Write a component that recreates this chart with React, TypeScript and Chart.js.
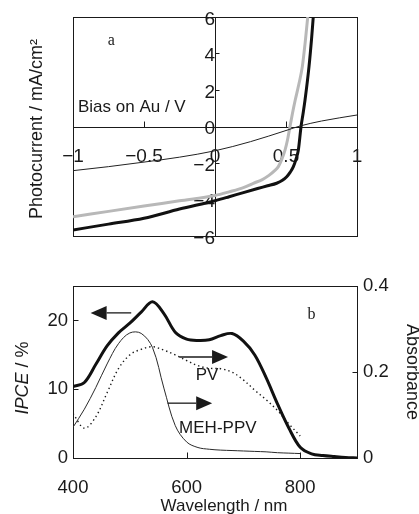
import React, { useEffect, useRef } from "react";
import { Chart, registerables } from "chart.js";

Chart.register(...registerables);

// ---------- Panel a: photocurrent vs bias ----------
const biasBlack = [-1, -0.75, -0.5, -0.25, 0, 0.1, 0.2, 0.3, 0.37, 0.434, 0.475, 0.505, 0.53, 0.552, 0.57, 0.587, 0.606, 0.62, 0.634, 0.662, 0.68, 0.692];
const currentBlack = [-5.67, -5.35, -5.03, -4.52, -4.07, -3.85, -3.62, -3.4, -3.25, -3.11, -2.95, -2.75, -2.5, -2.2, -1.8, -1.29, 0, 0.7, 1.45, 3.28, 4.8, 6.0];

const biasGray = [-1, -0.75, -0.5, -0.25, 0, 0.1, 0.2, 0.27, 0.33, 0.38, 0.42, 0.446, 0.47, 0.493, 0.51, 0.528, 0.545, 0.565, 0.59, 0.615, 0.635, 0.653];
const currentGray = [-4.94, -4.65, -4.36, -4.07, -3.78, -3.58, -3.35, -3.11, -2.92, -2.68, -2.42, -2.2, -1.8, -1.29, -0.75, 0, 0.7, 1.45, 2.3, 3.28, 4.6, 6.0];

const biasThin = [-1, -0.75, -0.5, -0.25, 0, 0.25, 0.5, 0.6, 0.75, 1];
const currentThin = [-2.42, -2.2, -1.95, -1.68, -1.33, -0.83, -0.22, 0.03, 0.3, 0.63];

const biasTickMarks = [-0.5, 0.5];
const currentTickMarks = [-4, -2, 2, 4];

// ---------- Panel b: IPCE and absorbance vs wavelength ----------
const wavelengths = [400, 420, 440, 460, 480, 500, 520, 540, 560, 580, 600, 620, 640, 660, 680, 700, 720, 740, 760, 780, 800, 820, 840, 860, 880, 900];
const ipce = [10.4, 11.0, 13.6, 16.3, 18.2, 19.6, 21.2, 22.7, 21.0, 18.3, 17.3, 17.1, 17.2, 17.8, 18.1, 17.0, 15.0, 11.7, 7.9, 4.4, 1.6, 0.65, 0.4, 0.25, 0.12, 0.05];
const absMEHPPV = [0.072, 0.114, 0.164, 0.219, 0.266, 0.291, 0.29, 0.257, 0.163, 0.076, 0.038, 0.025, 0.021, 0.019, 0.018, 0.017, 0.016, 0.015, 0.013, 0.012, 0.011, null, null, null, null, null];
const absPV = [0.104, 0.07, 0.096, 0.152, 0.208, 0.24, 0.253, 0.259, 0.251, 0.24, 0.227, 0.215, 0.209, 0.208, 0.2, 0.182, 0.158, 0.136, 0.111, 0.08, 0.052, null, null, null, null, null];

const wlTickMarks = [600, 800];
const ipceTickMarks = [10, 20];
const absTickMarks = [0.2];

const SANS = '"Liberation Sans", Arial, Helvetica, sans-serif';
const SERIF = '"Liberation Serif", "Times New Roman", serif';
const INK = "#1a1a1a";

const toPoints = (xs: number[], ys: (number | null)[]) =>
  xs.map((x, i) => ({ x, y: ys[i] })).filter((p) => p.y !== null && p.y !== undefined) as { x: number; y: number }[];

const minusFmt = (v: any) => String(v).replace("-", "\u2212");

function line(ctx: CanvasRenderingContext2D, x1: number, y1: number, x2: number, y2: number) {
  ctx.beginPath();
  ctx.moveTo(x1, y1);
  ctx.lineTo(x2, y2);
  ctx.stroke();
}

const topDeco = {
  id: "topDeco",
  beforeDatasetsDraw(chart: any) {
    const { ctx, chartArea: a, scales } = chart;
    const x = scales.x, y = scales.y;
    ctx.save();
    ctx.strokeStyle = INK;
    ctx.lineWidth = 1;
    ctx.strokeRect(Math.round(a.left) + 0.5, Math.round(a.top) + 0.5, Math.round(a.right - a.left), Math.round(a.bottom - a.top));
    const x0 = Math.round(x.getPixelForValue(0)) + 0.5;
    const y0 = Math.round(y.getPixelForValue(0)) + 0.5;
    line(ctx, a.left, y0, a.right, y0);
    line(ctx, x0, a.top, x0, a.bottom);
    biasTickMarks.forEach((v) => {
      const px = Math.round(x.getPixelForValue(v)) + 0.5;
      line(ctx, px, y0, px, y0 - 6);
    });
    currentTickMarks.forEach((v) => {
      const py = Math.round(y.getPixelForValue(v)) + 0.5;
      line(ctx, x0, py, x0 + 4, py);
    });
    ctx.restore();
  },
  afterDraw(chart: any) {
    const { ctx, scales } = chart;
    const x = scales.x, y = scales.y;
    ctx.save();
    ctx.fillStyle = INK;
    ctx.textBaseline = "middle";
    ctx.textAlign = "center";
    ctx.font = `16px ${SERIF}`;
    ctx.fillText("a", x.getPixelForValue(-0.73), y.getPixelForValue(4.68));
    ctx.textAlign = "left";
    ctx.font = `17px ${SANS}`;
    ctx.fillText("Bias on Au / V", x.getPixelForValue(-0.965), y.getPixelForValue(1.04));
    // y title
    ctx.translate(37, 129);
    ctx.rotate(-Math.PI / 2);
    ctx.textAlign = "center";
    ctx.font = `18px ${SANS}`;
    ctx.fillText("Photocurrent / mA/cm\u00B2", 0, 0);
    ctx.restore();
  },
};

function arrow(ctx: CanvasRenderingContext2D, x1: number, x2: number, y: number) {
  // from x1 to tip at x2
  const dir = Math.sign(x2 - x1);
  const head = 16;
  const half = 7;
  ctx.lineWidth = 1.3;
  line(ctx, x1, y, x2 - dir * head, y);
  ctx.beginPath();
  ctx.moveTo(x2, y);
  ctx.lineTo(x2 - dir * head, y - half);
  ctx.lineTo(x2 - dir * head, y + half);
  ctx.closePath();
  ctx.fill();
}

const bottomDeco = {
  id: "bottomDeco",
  beforeDatasetsDraw(chart: any) {
    const { ctx, chartArea: a, scales } = chart;
    const x = scales.x, y = scales.y, y2 = scales.y2;
    ctx.save();
    ctx.strokeStyle = INK;
    ctx.lineWidth = 1;
    ctx.strokeRect(Math.round(a.left) + 0.5, Math.round(a.top) + 0.5, Math.round(a.right - a.left), Math.round(a.bottom - a.top));
    const b = Math.round(a.bottom) + 0.5;
    wlTickMarks.forEach((v) => {
      const px = Math.round(x.getPixelForValue(v)) + 0.5;
      line(ctx, px, b, px, b - 6);
    });
    const l = Math.round(a.left) + 0.5;
    ipceTickMarks.forEach((v) => {
      const py = Math.round(y.getPixelForValue(v)) + 0.5;
      line(ctx, l, py, l + 5, py);
    });
    const r = Math.round(a.right) + 0.5;
    absTickMarks.forEach((v) => {
      const py = Math.round(y2.getPixelForValue(v)) + 0.5;
      line(ctx, r, py, r - 5, py);
    });
    ctx.restore();
  },
  afterDraw(chart: any) {
    const { ctx, scales } = chart;
    const x = scales.x, y = scales.y;
    ctx.save();
    ctx.fillStyle = INK;
    ctx.strokeStyle = INK;
    arrow(ctx, x.getPixelForValue(502.5), x.getPixelForValue(431), y.getPixelForValue(21.1));
    arrow(ctx, x.getPixelForValue(587), x.getPixelForValue(673), y.getPixelForValue(14.7));
    arrow(ctx, x.getPixelForValue(566.5), x.getPixelForValue(645), y.getPixelForValue(8.0));

    ctx.textBaseline = "middle";
    ctx.textAlign = "center";
    ctx.font = `16px ${SERIF}`;
    ctx.fillText("b", x.getPixelForValue(820), y.getPixelForValue(20.8));
    ctx.font = `17px ${SANS}`;
    ctx.fillText("PV", x.getPixelForValue(636), y.getPixelForValue(12.1));
    ctx.fillText("MEH-PPV", x.getPixelForValue(655), y.getPixelForValue(4.3));

    // x title
    ctx.textBaseline = "alphabetic";
    ctx.font = `17px ${SANS}`;
    ctx.fillText("Wavelength / nm", 224, 261);

    // left title (IPCE italic)
    ctx.save();
    ctx.translate(23, 128);
    ctx.rotate(-Math.PI / 2);
    ctx.textBaseline = "middle";
    ctx.textAlign = "left";
    const fItal = `italic 18px ${SANS}`;
    const fReg = `18px ${SANS}`;
    ctx.font = fItal;
    const w1 = ctx.measureText("IPCE").width;
    ctx.font = fReg;
    const w2 = ctx.measureText(" / %").width;
    const start = -(w1 + w2) / 2;
    ctx.font = fItal;
    ctx.fillText("IPCE", start, 0);
    ctx.font = fReg;
    ctx.fillText(" / %", start + w1, 0);
    ctx.restore();

    // right title
    ctx.save();
    ctx.translate(412, 122);
    ctx.rotate(Math.PI / 2);
    ctx.textBaseline = "middle";
    ctx.textAlign = "center";
    ctx.font = `18px ${SANS}`;
    ctx.fillText("Absorbance", 0, 0);
    ctx.restore();

    ctx.restore();
  },
};

function topConfig(): any {
  return {
    type: "scatter",
    data: {
      datasets: [
        { data: toPoints(biasThin, currentThin), showLine: true, borderColor: "#222", borderWidth: 1, pointRadius: 0, cubicInterpolationMode: "monotone" },
        { data: toPoints(biasGray, currentGray), showLine: true, borderColor: "#b8b8b8", borderWidth: 3, pointRadius: 0, cubicInterpolationMode: "monotone" },
        { data: toPoints(biasBlack, currentBlack), showLine: true, borderColor: "#111", borderWidth: 3, pointRadius: 0, cubicInterpolationMode: "monotone" },
      ],
    },
    options: {
      responsive: false,
      animation: false,
      events: [],
      layout: { padding: { left: 73, right: 62, top: 17, bottom: 14 } },
      plugins: { legend: { display: false }, tooltip: { enabled: false } },
      scales: {
        x: {
          type: "linear",
          min: -1,
          max: 1,
          position: { y: 0 },
          grid: { display: false, drawTicks: false },
          border: { display: false },
          ticks: { stepSize: 0.5, padding: 19, color: INK, font: { family: SANS, size: 19 }, maxRotation: 0, autoSkip: false, callback: minusFmt },
          afterFit: (s: any) => { s.height = 0; },
        },
        y: {
          type: "linear",
          min: -6,
          max: 6,
          position: { x: 0 },
          grid: { display: false, drawTicks: false },
          border: { display: false },
          ticks: { stepSize: 2, padding: 2, labelOffset: 2.5, color: INK, font: { family: SANS, size: 19 }, autoSkip: false, callback: minusFmt },
          afterFit: (s: any) => { s.width = 0; },
        },
      },
    },
    plugins: [topDeco],
  };
}

function bottomConfig(): any {
  return {
    type: "scatter",
    data: {
      datasets: [
        { data: toPoints(wavelengths, ipce), yAxisID: "y", showLine: true, borderColor: "#111", borderWidth: 3, pointRadius: 0, tension: 0.35 },
        { data: toPoints(wavelengths, absMEHPPV), yAxisID: "y2", showLine: true, borderColor: "#2a2a2a", borderWidth: 1, pointRadius: 0, tension: 0.35 },
        { data: toPoints(wavelengths, absPV), yAxisID: "y2", showLine: true, borderColor: "#1a1a1a", borderWidth: 1.4, borderDash: [1.4, 3], pointRadius: 0, tension: 0.35 },
      ],
    },
    options: {
      responsive: false,
      animation: false,
      events: [],
      layout: { padding: { left: 0, right: 0, top: 36, bottom: 0 } },
      plugins: { legend: { display: false }, tooltip: { enabled: false } },
      scales: {
        x: {
          type: "linear",
          position: "bottom",
          min: 400,
          max: 900,
          grid: { display: false, drawTicks: false },
          border: { display: false },
          ticks: { stepSize: 200, includeBounds: false, padding: 18.5, color: INK, font: { family: SANS, size: 18.5 }, maxRotation: 0, autoSkip: false },
          afterFit: (s: any) => { s.height = 55.7; },
        },
        y: {
          type: "linear",
          position: "left",
          min: 0,
          max: 25,
          grid: { display: false, drawTicks: false },
          border: { display: false },
          ticks: { stepSize: 10, includeBounds: false, padding: 5, color: INK, font: { family: SANS, size: 18.5 } },
          afterFit: (s: any) => { s.width = 73; },
        },
        y2: {
          type: "linear",
          position: "right",
          min: 0,
          max: 0.4,
          grid: { display: false, drawTicks: false },
          border: { display: false },
          ticks: { stepSize: 0.2, padding: 6, color: INK, font: { family: SANS, size: 18.5 } },
          afterFit: (s: any) => { s.width = 62; },
        },
      },
    },
    plugins: [bottomDeco],
  };
}

export default function App() {
  const topRef = useRef<HTMLCanvasElement>(null);
  const botRef = useRef<HTMLCanvasElement>(null);
  useEffect(() => {
    const c1 = new Chart(topRef.current as HTMLCanvasElement, topConfig());
    const c2 = new Chart(botRef.current as HTMLCanvasElement, bottomConfig());
    return () => {
      c1.destroy();
      c2.destroy();
    };
  }, []);
  return (
    <div style={{ position: "absolute", left: 0, top: 0, width: 419, height: 514, background: "#fff" }}>
      <div style={{ position: "absolute", left: 0, top: 0, width: 419, height: 250 }}>
        <canvas ref={topRef} width={419} height={250} style={{ display: "block" }} />
      </div>
      <div style={{ position: "absolute", left: 0, top: 250, width: 419, height: 264 }}>
        <canvas ref={botRef} width={419} height={264} style={{ display: "block" }} />
      </div>
    </div>
  );
}
